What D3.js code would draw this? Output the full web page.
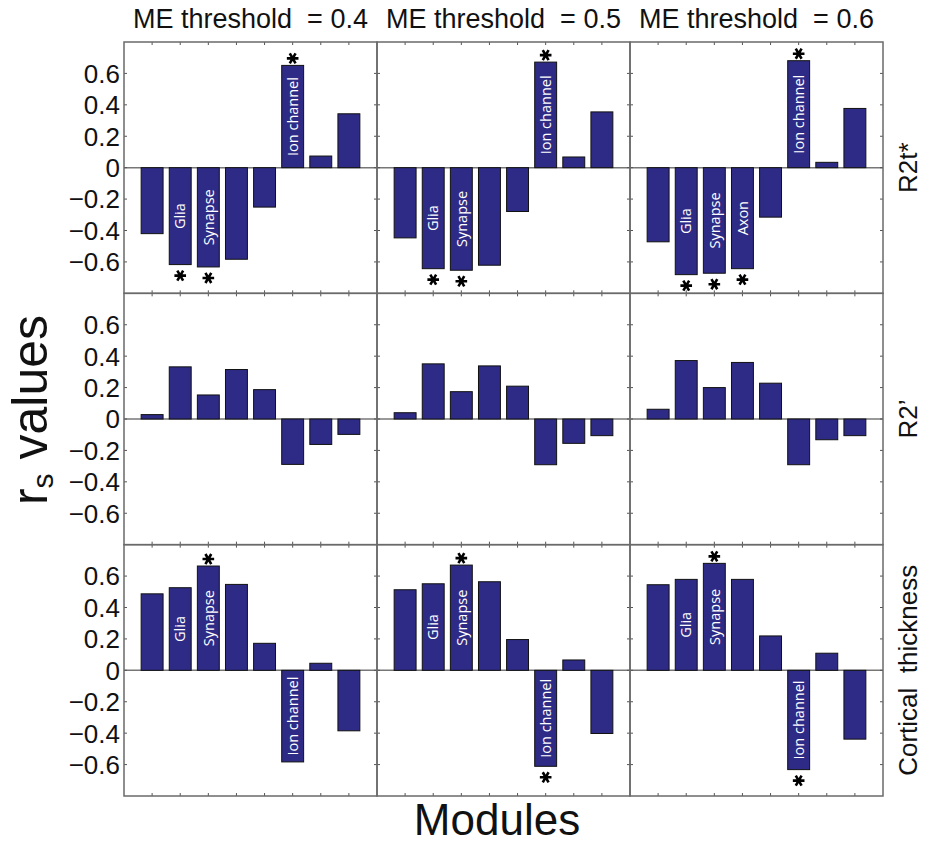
<!DOCTYPE html>
<html>
<head>
<meta charset="utf-8">
<script src="https://cdn.jsdelivr.net/npm/d3@7"></script>
<style>
  body { margin: 0; background: #fff; }
  text { font-family: 'Liberation Sans', Arial, sans-serif; }
</style>
</head>
<body>
<script>

let thresholds = ['0.4', '0.5', '0.6']
let measures = ['R2t*', 'R2\u2019', 'Cortical thickness']
let modules = [1, 2, 3, 4, 5, 6, 7, 8]
let yTicks = [-0.6, -0.4, -0.2, 0, 0.2, 0.4, 0.6]

// r_s values, one row per threshold (0.4, 0.5, 0.6)
let r2tValues = [
  [-0.42, -0.617, -0.632, -0.583, -0.251, 0.651, 0.074, 0.343],
  [-0.447, -0.643, -0.653, -0.621, -0.279, 0.672, 0.068, 0.355],
  [-0.472, -0.681, -0.672, -0.643, -0.315, 0.681, 0.034, 0.377]
]
let r2pValues = [
  [0.028, 0.332, 0.153, 0.315, 0.187, -0.289, -0.162, -0.098],
  [0.040, 0.351, 0.174, 0.338, 0.209, -0.291, -0.155, -0.106],
  [0.062, 0.372, 0.200, 0.360, 0.228, -0.291, -0.132, -0.106]
]
let ctValues = [
  [0.487, 0.526, 0.664, 0.547, 0.172, -0.583, 0.045, -0.385],
  [0.513, 0.551, 0.670, 0.564, 0.196, -0.611, 0.066, -0.402],
  [0.545, 0.579, 0.681, 0.579, 0.219, -0.632, 0.109, -0.438]
]

// names written inside bars
let r2tLabels = [
  ['', 'Glia', 'Synapse', '', '', 'Ion channel', '', ''],
  ['', 'Glia', 'Synapse', '', '', 'Ion channel', '', ''],
  ['', 'Glia', 'Synapse', 'Axon', '', 'Ion channel', '', '']
]
let r2pLabels = [
  ['', '', '', '', '', '', '', ''],
  ['', '', '', '', '', '', '', ''],
  ['', '', '', '', '', '', '', '']
]
let ctLabels = [
  ['', 'Glia', 'Synapse', '', '', 'Ion channel', '', ''],
  ['', 'Glia', 'Synapse', '', '', 'Ion channel', '', ''],
  ['', 'Glia', 'Synapse', '', '', 'Ion channel', '', '']
]

// significance stars (1 = starred)
let r2tStars = [
  [0, 1, 1, 0, 0, 1, 0, 0],
  [0, 1, 1, 0, 0, 1, 0, 0],
  [0, 1, 1, 1, 0, 1, 0, 0]
]
let r2pStars = [
  [0, 0, 0, 0, 0, 0, 0, 0],
  [0, 0, 0, 0, 0, 0, 0, 0],
  [0, 0, 0, 0, 0, 0, 0, 0]
]
let ctStars = [
  [0, 0, 1, 0, 0, 0, 0, 0],
  [0, 0, 1, 0, 0, 1, 0, 0],
  [0, 0, 1, 0, 0, 1, 0, 0]
]

let valuesByMeasure = [r2tValues, r2pValues, ctValues]
let labelsByMeasure = [r2tLabels, r2pLabels, ctLabels]
let starsByMeasure = [r2tStars, r2pStars, ctStars]

let width = 925,
  height = 845

let grid = { left: 124, right: 883, top: 42, bottom: 796 }

let svg = d3.select('body')
  .append('svg')
  .attr('width', width)
  .attr('height', height)
  .style('background', '#fff')

let colScale = d3.scaleBand()
  .domain(thresholds)
  .range([grid.left, grid.right])

let rowScale = d3.scaleBand()
  .domain(measures)
  .range([grid.top, grid.bottom])

let pw = colScale.bandwidth()
let ph = rowScale.bandwidth()

let x = d3.scaleLinear().domain([0, 9]).range([0, pw])
let y = d3.scaleLinear().domain([-0.8, 0.8]).range([ph, 0])
let barW = (x(1) - x(0)) * 0.78

let barColor = '#2e2b86'
let frameColor = '#6a6a6a'

let starPath = d3.symbol().type(d3.symbolAsterisk).size(95)

measures.forEach((m, mi) => {
  thresholds.forEach((t, ti) => {
    let g = svg.append('g')
      .attr('transform', `translate(${colScale(t)}, ${rowScale(m)})`)

    let vals = valuesByMeasure[mi][ti]
    let labs = labelsByMeasure[mi][ti]
    let stars = starsByMeasure[mi][ti]

    let bars = modules.map((mod, i) => ({
      mod: mod,
      value: vals[i],
      label: labs[i],
      star: stars[i]
    }))

    // zero line
    g.append('line')
      .attr('x1', 0)
      .attr('x2', pw)
      .attr('y1', y(0))
      .attr('y2', y(0))
      .attr('stroke', '#777')
      .attr('stroke-width', 1.5)

    g.selectAll('rect.bar')
      .data(bars)
      .enter()
      .append('rect')
      .attr('class', 'bar')
      .attr('x', d => x(d.mod) - barW / 2)
      .attr('y', d => y(Math.max(0, d.value)))
      .attr('width', barW)
      .attr('height', d => Math.abs(y(d.value) - y(0)))
      .attr('fill', barColor)
      .attr('stroke', '#111')
      .attr('stroke-width', 1)

    // names inside bars
    bars.filter(d => d.label).forEach(d => {
      let cy = (y(d.value) + y(0)) / 2
      g.append('text')
        .attr('transform', `translate(${x(d.mod)}, ${cy}) rotate(-90)`)
        .attr('text-anchor', 'middle')
        .attr('dy', '0.36em')
        .attr('fill', '#fff')
        .style('font-family', "'Open Sans', sans-serif")
        .attr('font-size', '14.5px')
        .text(d.label)
    })

    // stars
    bars.filter(d => d.star).forEach(d => {
      let above = d.value > 0
      let sy = above ? y(d.value) - 7 : y(d.value) + 11
      g.append('path')
        .attr('d', starPath())
        .attr('transform', `translate(${x(d.mod)}, ${sy}) rotate(90)`)
        .attr('fill', 'none')
        .attr('stroke', '#000')
        .attr('stroke-width', 2.6)
    })

    // ticks on all sides, pointing in
    let tickColor = '#555'
    yTicks.forEach(v => {
      g.append('line')
        .attr('x1', 0).attr('x2', 3)
        .attr('y1', y(v)).attr('y2', y(v))
        .attr('stroke', tickColor)
      g.append('line')
        .attr('x1', pw - 3).attr('x2', pw)
        .attr('y1', y(v)).attr('y2', y(v))
        .attr('stroke', tickColor)
    })
    modules.forEach(mod => {
      g.append('line')
        .attr('x1', x(mod)).attr('x2', x(mod))
        .attr('y1', 0).attr('y2', 3)
        .attr('stroke', tickColor)
      g.append('line')
        .attr('x1', x(mod)).attr('x2', x(mod))
        .attr('y1', ph - 3).attr('y2', ph)
        .attr('stroke', tickColor)
    })

    g.append('rect')
      .attr('x', 0)
      .attr('y', 0)
      .attr('width', pw)
      .attr('height', ph)
      .attr('fill', 'none')
      .attr('stroke', frameColor)
      .attr('stroke-width', 1.5)

    // y tick labels on the left column only
    if (ti === 0) {
      yTicks.forEach(v => {
        g.append('text')
          .attr('x', -4)
          .attr('y', y(v))
          .attr('dy', '0.36em')
          .attr('text-anchor', 'end')
          .attr('font-size', '26px')
          .attr('fill', '#111')
          .text(v === 0 ? '0' : d3.format('.1f')(v))
      })
    }
  })
})

// column titles
thresholds.forEach(t => {
  svg.append('text')
    .attr('x', colScale(t) + pw / 2)
    .attr('y', 28)
    .attr('text-anchor', 'middle')
    .attr('font-size', '27px')
    .attr('fill', '#111')
    .text('ME threshold\u00a0 = ' + t)
})

// row labels at right
measures.forEach(m => {
  svg.append('text')
    .attr('transform', `translate(${grid.right + 34}, ${rowScale(m) + ph / 2}) rotate(-90)`)
    .attr('text-anchor', 'middle')
    .attr('font-size', '26px')
    .attr('fill', '#111')
    .text(m.replace('Cortical thickness', 'Cortical\u00a0 thickness'))
})

// axis titles
let yTitle = svg.append('text')
  .attr('transform', 'translate(47, 410) rotate(-90)')
  .attr('text-anchor', 'middle')
  .attr('font-size', '50px')
  .attr('fill', '#111')
yTitle.append('tspan').text('r')
yTitle.append('tspan').attr('font-size', '30px').attr('dy', 6).text('s')
yTitle.append('tspan').attr('dy', -6).text(' values')

svg.append('text')
  .attr('x', 497)
  .attr('y', 835)
  .attr('text-anchor', 'middle')
  .attr('font-size', '44px')
  .attr('fill', '#111')
  .text('Modules')

</script>
</body>
</html>
